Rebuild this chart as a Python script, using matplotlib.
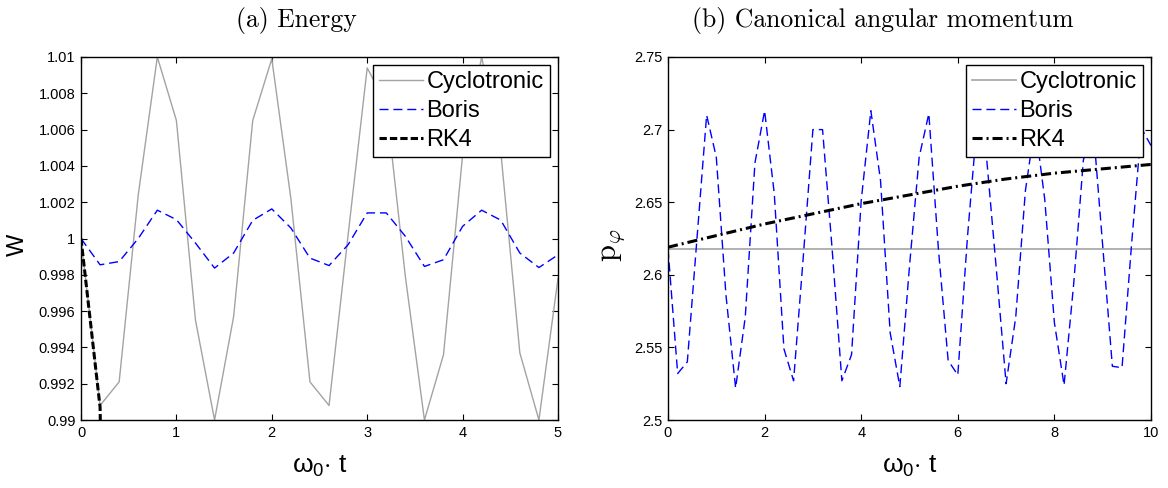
#!/usr/bin/env python
"""Energy (W) and canonical angular momentum (p_phi) for three particle pushers."""

import matplotlib

matplotlib.use("Agg")
import matplotlib.pyplot as plt
import numpy as np

# --------------------------------------------------------------------------- #
# Data
# --------------------------------------------------------------------------- #
t_energy = np.round(np.arange(0, 5.01, 0.2), 1)
w_cyclotronic = [
    1.0000, 0.9908, 0.9921, 1.0024, 1.0100, 1.0065, 0.9955, 0.9900, 0.9957,
    1.0065, 1.0099, 1.0022, 0.9921, 0.9908, 1.0002, 1.0094, 1.0074, 0.9979,
    0.9900, 0.9936, 1.0046, 1.0100, 1.0048, 0.9937, 0.9900, 0.9978,
]
w_boris = [
    1.0000, 0.99855, 0.99873, 1.0000, 1.00156, 1.00104, 0.99975, 0.99837,
    0.99920, 1.00100, 1.00163, 1.00058, 0.99892, 0.99851, 0.99966, 1.00141,
    1.00141, 1.00012, 0.99846, 0.99883, 1.00067, 1.00156, 1.00101, 0.99920,
    0.99840, 0.99910,
]
t_energy_rk4 = [0.0, 0.2, 0.4]
w_rk4 = [1.0000, 0.9907, 0.9300]

t_momentum = np.round(np.arange(0, 10.01, 0.2), 1)
p_cyclotronic = [2.618] * len(t_momentum)
p_boris = [
    2.618, 2.532, 2.540, 2.625, 2.710, 2.681, 2.586, 2.522, 2.571, 2.677,
    2.713, 2.656, 2.549, 2.527, 2.612, 2.700, 2.700, 2.617, 2.527, 2.545,
    2.651, 2.713, 2.665, 2.560, 2.523, 2.606, 2.681, 2.711, 2.617, 2.541,
    2.531, 2.626, 2.705, 2.679, 2.603, 2.525, 2.571, 2.658, 2.704, 2.652,
    2.567, 2.524, 2.594, 2.679, 2.703, 2.620, 2.537, 2.536, 2.622, 2.701,
    2.689,
]
t_momentum_rk4 = list(range(0, 11))
p_rk4 = [2.619, 2.627, 2.635, 2.642, 2.649, 2.655, 2.661, 2.666, 2.670, 2.673, 2.676]

energy_yticks = np.round(np.arange(0.99, 1.0101, 0.002), 3)
energy_yticklabels = ["0.99", "0.992", "0.994", "0.996", "0.998", "1",
                      "1.002", "1.004", "1.006", "1.008", "1.01"]
momentum_yticks = [2.5, 2.55, 2.6, 2.65, 2.7, 2.75]
momentum_yticklabels = ["2.5", "2.55", "2.6", "2.65", "2.7", "2.75"]

# --------------------------------------------------------------------------- #
# Plotting
# --------------------------------------------------------------------------- #
SANS = "Liberation Sans"
plt.rcParams["font.family"] = SANS
plt.rcParams["mathtext.fontset"] = "custom"
plt.rcParams["mathtext.rm"] = SANS
plt.rcParams["mathtext.it"] = SANS + ":italic"
plt.rcParams["mathtext.bf"] = SANS + ":bold"

GRAY = "#a3a3a3"


def style_axes(ax):
    ax.tick_params(direction="in", length=4.5, width=0.8, labelsize=10.5,
                   top=True, right=True, pad=4)
    for sp in ax.spines.values():
        sp.set_linewidth(1.0)


def add_legend(ax):
    leg = ax.legend(
        loc="upper right", fontsize=17, frameon=True, fancybox=False,
        edgecolor="black", framealpha=1.0, borderpad=0.25, labelspacing=0.30,
        handlelength=1.85, handletextpad=0.15, borderaxespad=0.35,
    )
    leg.get_frame().set_linewidth(1.0)


fig = plt.figure(figsize=(11.68, 4.88), dpi=100, facecolor="white")

# (a) Energy
ax1 = fig.add_axes([81 / 1168, 1 - 420 / 488, (558 - 81) / 1168, (420 - 57) / 488])
ax1.plot(t_energy, w_cyclotronic, color=GRAY, lw=1.0, label="Cyclotronic")
ax1.plot(t_energy, w_boris, color="blue", lw=1.0, dashes=(6.5, 3.5), label="Boris")
ax1.plot(t_energy_rk4, w_rk4, color="black", lw=2.2, dashes=(2.4, 1.0), label="RK4")
ax1.set_xlim(0, 5)
ax1.set_ylim(0.99, 1.01)
ax1.set_xticks(range(0, 6))
ax1.set_yticks(energy_yticks)
ax1.set_yticklabels(energy_yticklabels)
style_axes(ax1)
add_legend(ax1)

# (b) Canonical angular momentum
ax2 = fig.add_axes([668 / 1168, 1 - 420 / 488, (1151 - 668) / 1168, (420 - 57) / 488])
ax2.plot(t_momentum, p_cyclotronic, color=GRAY, lw=1.2, label="Cyclotronic")
ax2.plot(t_momentum, p_boris, color="blue", lw=1.0, dashes=(6.5, 3.5), label="Boris")
ax2.plot(t_momentum_rk4, p_rk4, color="black", lw=2.2,
         dashes=(3.3, 1.3, 0.65, 1.3), label="RK4")
ax2.set_xlim(0, 10)
ax2.set_ylim(2.5, 2.75)
ax2.set_xticks(range(0, 11, 2))
ax2.set_yticks(momentum_yticks)
ax2.set_yticklabels(momentum_yticklabels)
style_axes(ax2)
add_legend(ax2)

# Labels
for ax, cx in ((ax1, (81 + 558) / 2), (ax2, (668 + 1151) / 2)):
    fig.text(cx / 1168, 1 - 466 / 488, r"$\mathrm{\omega}_0{\cdot}$ t", fontsize=19,
             ha="center", va="center")

fig.text(18 / 1168, 1 - 245 / 488, "W", fontsize=17, rotation=90,
         ha="center", va="center")
fig.text(612 / 1168, 1 - 245 / 488, r"$\mathrm{p}_\varphi$", fontsize=22,
         rotation=90, ha="center", va="center", math_fontfamily="cm")

fig.text(296 / 1168, 1 - 20 / 488, "(a) Energy", fontsize=18.5, family="cmr10",
         ha="center", va="center")
fig.text(883 / 1168, 1 - 20 / 488, "(b) Canonical angular momentum", fontsize=18.5,
         family="cmr10", ha="center", va="center")

fig.savefig("out.png", dpi=100)
